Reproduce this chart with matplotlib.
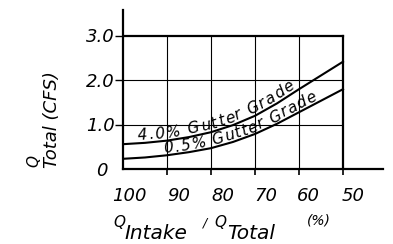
import numpy as np
import matplotlib
matplotlib.use("Agg")
import matplotlib.pyplot as plt

# ---- data ----
ratio_pct = [100, 95, 90, 85, 80, 75, 70, 65, 60, 55, 50]
q_grade_40 = [0.56, 0.59, 0.64, 0.72, 0.83, 0.99, 1.20, 1.48, 1.80, 2.11, 2.42]
q_grade_05 = [0.23, 0.26, 0.31, 0.38, 0.47, 0.61, 0.79, 1.02, 1.28, 1.54, 1.80]
label_40 = "4.0% Gutter Grade"
label_05 = "0.5% Gutter Grade"
x_ticks = [100, 90, 80, 70, 60, 50]
x_tick_labels = ["100", "90", "80", "70", "60", "50"]
y_ticks = [0, 1, 2, 3]
y_tick_labels = ["0", "1.0", "2.0", "3.0"]

FONT = dict(family="DejaVu Sans", style="oblique", weight="normal")

W, H = 393, 244
fig = plt.figure(figsize=(W / 100, H / 100), dpi=100)

def fx(px):
    return px / W

def fy(py):
    return 1 - py / H

# axes: x 100->px123, 50->px343 ; y 0->px169, 3->px36
ax_l, ax_r, ax_b, ax_t = 123, 383, 169, 10
ax = fig.add_axes([fx(ax_l), fy(ax_b), (ax_r - ax_l) / W, (ax_b - ax_t) / H])
px_per_x = (343 - 123) / 50.0
px_per_y = (169 - 36) / 3.0
ax.set_xlim(100, 100 - (ax_r - ax_l) / px_per_x)
ax.set_ylim(0, (ax_b - ax_t) / px_per_y)
ax.patch.set_alpha(0)

for s in ["top", "right"]:
    ax.spines[s].set_visible(False)
for s in ["left", "bottom"]:
    ax.spines[s].set_linewidth(1.6)
    ax.spines[s].set_color("black")

thin = 0.8
thick = 1.6
for xv in x_ticks[1:-1]:
    ax.plot([xv, xv], [0, 3], color="black", lw=thin, solid_capstyle="butt")
ax.plot([50, 50], [0, 3], color="black", lw=thick, solid_capstyle="projecting")
for yv in y_ticks[1:-1]:
    ax.plot([100, 50], [yv, yv], color="black", lw=thin, solid_capstyle="butt")
ax.plot([100, 50], [3, 3], color="black", lw=thick, solid_capstyle="projecting")

ax.set_xticks(x_ticks[1:])
ax.set_yticks(y_ticks[1:])
ax.tick_params(axis="x", direction="out", length=4.3, width=1.2, labelbottom=False)
ax.tick_params(axis="y", direction="out", length=5.8, width=1.0, labelleft=False)

# curves
ax.plot(ratio_pct, q_grade_40, color="black", lw=1.5)
ax.plot(ratio_pct, q_grade_05, color="black", lw=1.5)

def ptxt(x, y, s, size, ha="left", rot=0):
    fig.text(fx(x), fy(y), s, fontsize=size, ha=ha, va="baseline",
             rotation=rot, rotation_mode="anchor", **FONT)

# x tick labels (left ink edges from the reference)
xt_left = [112, 167, 211, 254, 297, 342]
for lab, xl in zip(x_tick_labels, xt_left):
    ptxt(xl, 201, lab, 13)

# y tick labels (right edge, baseline)
yt_pos = {"0": (108, 176), "1.0": (115, 131), "2.0": (115, 87), "3.0": (115, 42)}
for lab in y_tick_labels:
    xr, b = yt_pos[lab]
    ptxt(xr, b, lab, 13, ha="right")

# x axis title
ptxt(113, 227, "Q", 11)
ptxt(124, 239, "Intake", 14.5)
ptxt(203, 226, "/", 9)
ptxt(214, 227, "Q", 11)
ptxt(227, 239, "Total", 14.5)
ptxt(307, 225, "(%)", 10)

# y axis title (reads bottom to top)
ptxt(38, 167, "Q", 11, rot=90)
ptxt(57, 168, "Total (CFS)", 13, rot=90)

# labels along the curves
fig.canvas.draw()
renderer = fig.canvas.get_renderer()

def adv(s, size):
    t = fig.text(0, 0, "|" + s + "|", fontsize=size, **FONT)
    t2 = fig.text(0, 0, "||", fontsize=size, **FONT)
    w = t.get_window_extent(renderer).width - t2.get_window_extent(renderer).width
    t.remove(); t2.remove()
    return w

def curve_label(xs, ys, text, x_start, x_end, offset, size):
    pts = ax.transData.transform(np.column_stack([xs, ys]))
    seg = np.hypot(np.diff(pts[:, 0]), np.diff(pts[:, 1]))
    cum = np.concatenate([[0], np.cumsum(seg)])
    p0 = ax.transData.transform((x_start, 0))[0]
    p1 = ax.transData.transform((x_end, 0))[0]
    s0 = np.interp(p0, pts[:, 0], cum)
    s1 = np.interp(p1, pts[:, 0], cum)
    n = len(text)
    track = (s1 - s0 - adv(text, size)) / max(n - 1, 1)
    prev = 0.0
    for i, ch in enumerate(text):
        wi = adv(text[: i + 1], size)
        cw = wi - prev
        sc = s0 + prev + i * track + cw / 2
        prev = wi
        if ch == " ":
            continue
        k = int(np.clip(np.searchsorted(cum, sc) - 1, 0, len(seg) - 1))
        f = (sc - cum[k]) / seg[k]
        p = pts[k] + f * (pts[k + 1] - pts[k])
        d = (pts[k + 1] - pts[k]) / seg[k]
        nrm = np.array([-d[1], d[0]])
        q = p + nrm * offset
        ang = np.degrees(np.arctan2(d[1], d[0]))
        fxy = fig.transFigure.inverted().transform(q)
        fig.text(fxy[0], fxy[1], ch, fontsize=size, ha="center", va="baseline",
                 rotation=ang, rotation_mode="anchor", **FONT)

curve_label(ratio_pct, q_grade_40, label_40, 96.6, 60.5, 3.0, 11)
curve_label(ratio_pct, q_grade_05, label_05, 90.5, 55.5, 2.5, 11)

fig.savefig("out.png", dpi=100)
